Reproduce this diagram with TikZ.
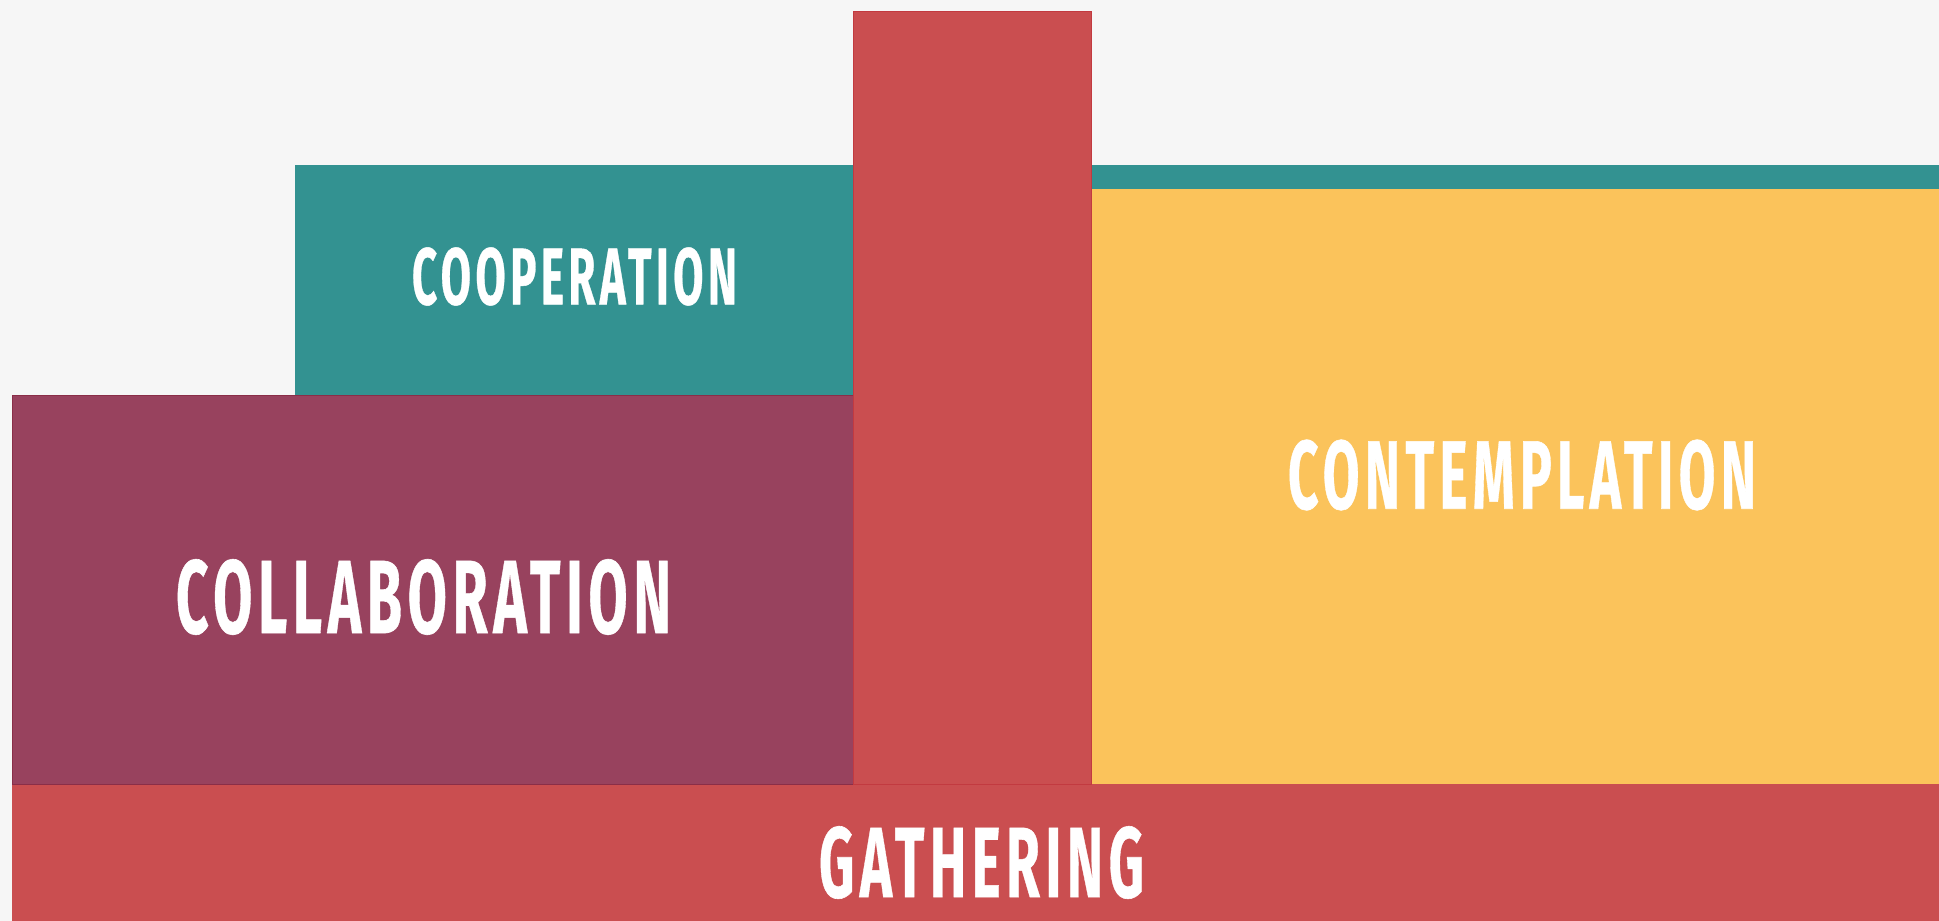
\documentclass[tikz,border=0pt]{standalone}
\usepackage{fontspec}
\usepackage{graphicx}
\newfontfamily\capsfont{Fira Sans}[FakeBold=0.6, LetterSpace=10]
\definecolor{paper}{HTML}{F6F6F6}
\definecolor{brick}{HTML}{CA4E50}
\definecolor{brickedge}{HTML}{C23A40}
\definecolor{tealblock}{HTML}{339291}
\definecolor{plum}{HTML}{98425E}
\definecolor{plumedge}{HTML}{8A2E48}
\definecolor{mustard}{HTML}{FBC35B}
\begin{document}
\begin{tikzpicture}[x=1pt,y=-1pt,
  caption/.style={text=white, inner sep=0pt, font=\capsfont\bfseries}]
  \useasboundingbox (0,0) rectangle (1939,921);
  \fill[paper] (0,0) rectangle (1939,921);
  % base layer
  \fill[brick] (12,784) rectangle (1939,921);
  % left stack
  \filldraw[fill=plum, draw=plumedge, line width=1pt] (12,395) rectangle (854,784);
  \fill[tealblock] (295,165) rectangle (853,395);
  % right stack
  \fill[tealblock] (1091,165) rectangle (1939,189);
  \fill[mustard] (1091,189) rectangle (1939,784);
  % central column
  \filldraw[fill=brick, draw=brickedge, line width=1pt] (853,11) rectangle (1091,784);
  % labels
  \node[caption] (coop) at (574.5,276.5) {\resizebox{325pt}{57pt}{COOPERATION}};
  \node[caption] (collab) at (423.5,597) {\resizebox{495pt}{74pt}{COLLABORATION}};
  \node[caption] (contemp) at (1522,475) {\resizebox{468pt}{69pt}{CONTEMPLATION}};
  \node[caption] (gather) at (981.5,862.5) {\resizebox{325pt}{71pt}{GATHERING}};
\end{tikzpicture}
\end{document}
